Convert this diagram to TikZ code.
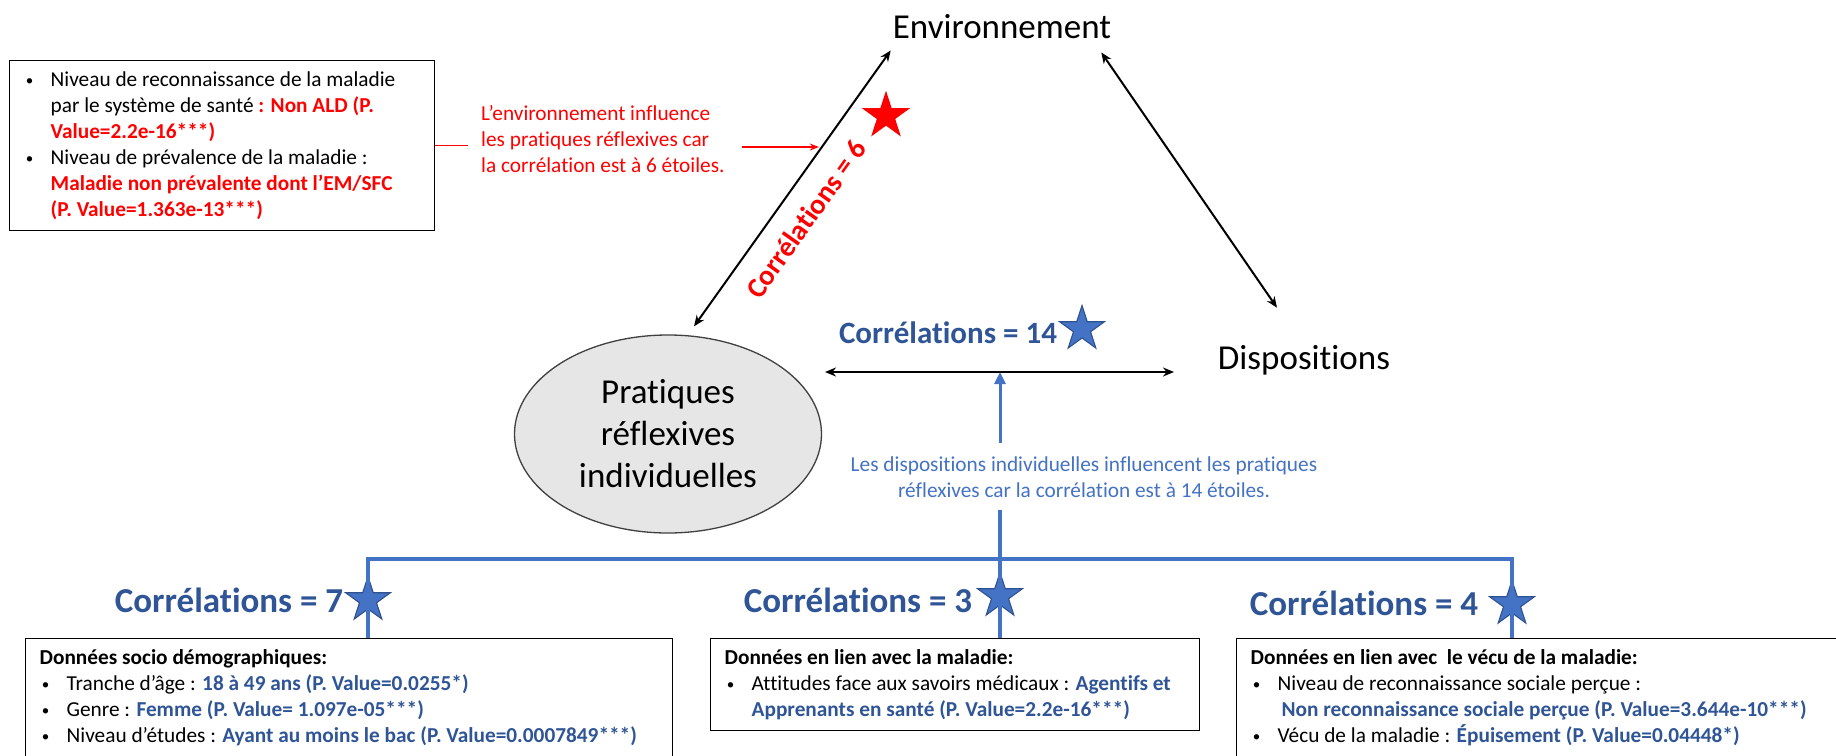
\documentclass[tikz,border=0pt]{standalone}
\usepackage{fontspec}
\setmainfont{Carlito}[Ligatures={TeX,NoCommon}]
\usetikzlibrary{shapes.geometric,arrows.meta,calc}
\definecolor{dblue}{HTML}{2F5597}
\definecolor{lblue}{HTML}{4472C4}
\definecolor{sblue}{HTML}{2F528F}
\definecolor{egray}{HTML}{E7E6E6}
\definecolor{wred}{HTML}{FF0000}
\newcommand\bitem{\makebox[27pt][l]{\makebox[12pt][c]{\raisebox{1.6pt}{\fontsize{15}{15}\selectfont\textbullet}}}}
\newcommand\bcont{\hspace*{27pt}}
\newcommand\fst{\rule{0pt}{18pt}}
\begin{document}
\begin{tikzpicture}[x=1pt,y=-1pt,
  txt/.style={inner sep=0pt,font=\fontsize{21.3}{26}\selectfont},
  big/.style={inner sep=0pt,font=\fontsize{35}{42}\selectfont},
  corr/.style={inner sep=0pt,text=dblue,font=\fontsize{35}{42}\selectfont\bfseries},
  bstar/.style={star,star points=5,star point ratio=2.618,minimum size=47pt,inner sep=0pt,fill=lblue,draw=sblue,line width=1.1pt},
  rstar/.style={bstar,fill=wred,draw=wred},
  infobox/.style={draw=black,line width=1.3pt,inner xsep=14pt,inner ysep=8pt,anchor=north west,font=\fontsize{21.3}{26}\selectfont},
  darr/.style={line width=2pt,{Stealth[length=11pt,width=9pt]}-{Stealth[length=11pt,width=9pt]}},
  bline/.style={draw=lblue,line width=4pt},
  barr/.style={draw=lblue,line width=3pt,-{Triangle[length=12pt,width=11pt]}},
  rarr/.style={draw=wred,line width=1.5pt}]
\fill[white] (0,0) rectangle (1836,755);
\useasboundingbox (0,0) rectangle (1836,755);
\clip (0,0) rectangle (1836,755);

% main nodes
\node[big,anchor=base] (env) at (1002,38) {Environnement};
\node[big,anchor=base] (disp) at (1304,369) {Dispositions};
\node[ellipse,draw=black!75,line width=1.3pt,fill=egray,minimum width=307pt,minimum height=198pt,inner sep=0pt,align=center,font=\fontsize{35}{42}\selectfont] (ell) at (668,434) {Pratiques\\réflexives\\individuelles};

% top-left box
\node[infobox] (tl) at (9,60) {\parbox[t][154pt][t]{397pt}{\raggedright\fst\bitem Niveau de reconnaissance de la maladie\\
\bcont par le système de santé \textcolor{wred}{\bfseries: Non ALD (P.}\\
\bcont\textcolor{wred}{\bfseries Value=2.2e-16***)}\\
\bitem Niveau de prévalence de la maladie :\\
\bcont\textcolor{wred}{\bfseries Maladie non prévalente dont l’EM/SFC}\\
\bcont\textcolor{wred}{\bfseries (P. Value=1.363e-13***)}}};

% red explanation
\node[txt,text=wred,anchor=base west] (rt) at (481,120) {\parbox[t]{260pt}{\raggedright L’environnement influence\\les pratiques réflexives car\\la corrélation est à 6 étoiles.}};

% arrows of the triangle
\coordinate (pL) at ($(ell.north)+(26,-8)$);
\coordinate (pE) at ($(env.south west)+(-2,12)$);
\draw[darr] (pL) -- (pE);
\coordinate (qE) at ($(env.south east)+(-10,14)$);
\coordinate (qD) at ($(disp.north)+(-27,-37)$);
\draw[darr] (qE) -- (qD);
\coordinate (hL) at (825,372);
\coordinate (hR) at (1174,372);
\draw[darr] (hL) -- (hR);

% red connectors
\draw[rarr] (tl.east) -- ++(33,0);
\coordinate (rx) at ($(pL)!0.65!(pE)$);
\draw[rarr,-{Stealth[length=9pt,width=7pt]}] ($(rx)+(-80,0)$) -- ($(rx)+(-3,0)$);

% stars
\node[rstar] (s6) at (886,116) {};
\node[bstar] (s14) at (1082,329) {};
\node[bstar] (s7) at (368,600) {};
\node[bstar] (s3) at (1000,596) {};
\node[bstar] (s4) at (1512,604) {};

% correlation labels
\node[corr,font=\fontsize{28.5}{34}\selectfont\bfseries,text=wred,rotate=54.6] (c6) at (806,219) {Corrélations = 6};
\node[corr,font=\fontsize{31}{37}\selectfont\bfseries,anchor=base] (c14) at (948,343) {Corrélations = 14};
\node[corr,anchor=base] (c7) at (229,612) {Corrélations = 7};
\node[corr,anchor=base] (c3) at (858,612) {Corrélations = 3};
\node[corr,anchor=base] (c4) at (1364,615) {Corrélations = 4};

% blue explanation
\node[txt,text=lblue,anchor=base] (bt) at (1084,471) {\parbox[t]{520pt}{\centering Les dispositions individuelles influencent les pratiques\\réflexives car la corrélation est à 14 étoiles.}};

% bottom boxes
\node[infobox] (lb) at (25,638) {\parbox[t][130pt][t]{619pt}{\raggedright\fst\textbf{Données socio démographiques:}\\
\bitem Tranche d’âge : \textcolor{dblue}{\bfseries 18 à 49 ans (P. Value=0.0255*)}\\
\bitem Genre : \textcolor{dblue}{\bfseries Femme (P. Value= 1.097e-05***)}\\
\bitem Niveau d’études : \textcolor{dblue}{\bfseries Ayant au moins le bac (P. Value=0.0007849***)}}};
\node[infobox] (mb) at (710,638) {\parbox[t][76pt][t]{461pt}{\raggedright\fst\textbf{Données en lien avec la maladie:}\\
\bitem Attitudes face aux savoirs médicaux : \textcolor{dblue}{\bfseries Agentifs et}\\
\bcont\textcolor{dblue}{\bfseries Apprenants en santé (P. Value=2.2e-16***)}}};
\node[infobox] (rb) at (1236,638) {\parbox[t][130pt][t]{672pt}{\raggedright\fst\textbf{Données en lien avec\ \ le vécu de la maladie:}\\
\bitem Niveau de reconnaissance sociale perçue :\\
\bcont\hspace*{4pt}\textcolor{dblue}{\bfseries Non reconnaissance sociale perçue (P. Value=3.644e-10***)}\\
\bitem Vécu de la maladie : \textcolor{dblue}{\bfseries Épuisement (P. Value=0.04448*)}}};

% blue tree
\coordinate (hb) at (0,559);
\draw[bline,line join=miter] (s7 |- lb.north) -- (s7 |- hb) -- (s4 |- hb) -- (s4 |- rb.north);
\draw[bline] (s3 |- mb.north) -- ($(s3 |- bt.south)+(0,13)$);
\draw[barr] ($(s3 |- bt.north)+(0,-13)$) -- (s3 |- hL);
\end{tikzpicture}
\end{document}
